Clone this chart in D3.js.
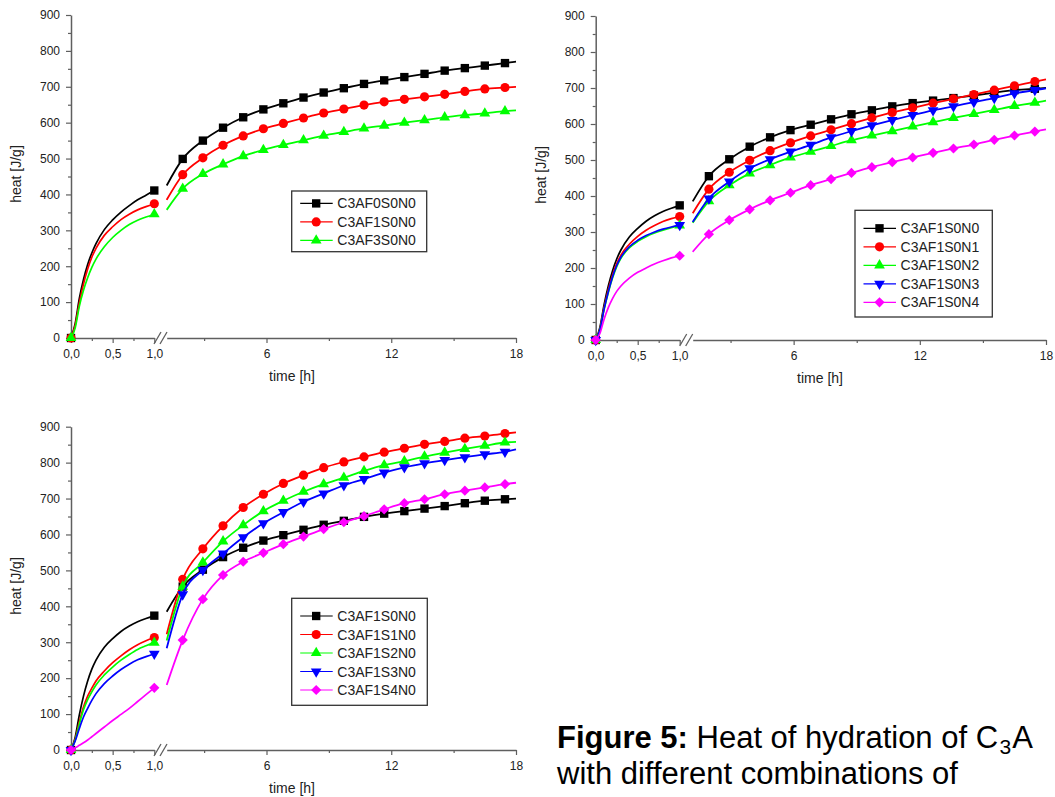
<!DOCTYPE html>
<html><head><meta charset="utf-8">
<script src="https://cdn.jsdelivr.net/npm/d3@7"></script>
<style>
body{margin:0;background:#fff}
svg{display:block}
text{font-family:"Liberation Sans",Arial,Helvetica,sans-serif}
</style>
</head><body>
<svg id="c" width="1055" height="797"></svg>
<script>
// ---------- data ----------
const seg1Times = [0, 0.05, 0.1, 0.15, 0.2, 0.25, 0.3, 0.4, 0.5, 0.6, 0.7, 0.8, 0.9, 1.0];
const seg2Times = [1.2, 1.97, 2.94, 3.91, 4.88, 5.85, 6.81, 7.78, 8.75, 9.72, 10.69, 11.66, 12.63, 13.60, 14.57, 15.54, 16.50, 17.47, 18];
const yTicks = [0, 100, 200, 300, 400, 500, 600, 700, 800, 900];
const yMinor = [50, 150, 250, 350, 450, 550, 650, 750, 850];
const xTicks1 = [0, 0.5, 1.0];
const xTickLabels1 = ["0,0", "0,5", "1,0"];
const xMinor1 = [0.25, 0.75];
const xTicks2 = [6, 12, 18];
const xTickLabels2 = ["6", "12", "18"];
const xMinor2 = [3, 9, 15];

const C3AF0S0N0_a = [0, 40, 110, 163, 205, 237, 263, 302, 329, 351, 369, 385, 398, 411];
const C3AF0S0N0_b = [425, 499, 550, 586, 615, 637, 654, 670, 684, 696, 708, 718, 727, 736, 745, 752, 759, 766, 770];
const C3AF1S0N0_a = [0, 35, 98, 150, 192, 225, 250, 286, 310, 330, 345, 357, 366, 374];
const C3AF1S0N0_b = [385, 455, 502, 537, 563, 583, 598, 613, 627, 638, 649, 658, 665, 672, 679, 687, 694, 698, 700];
const C3AF3S0N0_a = [0, 28, 88, 133, 168, 197, 220, 254, 280, 300, 316, 328, 337, 345];
const C3AF3S0N0_b = [357, 416, 457, 484, 507, 524, 538, 551, 564, 574, 584, 592, 600, 607, 615, 621, 626, 632, 634];

const C3AF1S0N1_a = [0, 30, 90, 140, 180, 212, 236, 266, 288, 305, 318, 329, 337, 343];
const C3AF1S0N1_b = [352, 419, 466, 499, 526, 548, 567, 584, 601, 617, 632, 645, 658, 670, 682, 694, 706, 718, 724];
const C3AF1S0N2_a = [0, 28, 85, 132, 172, 204, 227, 256, 274, 287, 297, 305, 312, 318];
const C3AF1S0N2_b = [326, 386, 430, 463, 486, 507, 523, 539, 555, 568, 580, 593, 605, 617, 628, 639, 650, 659, 665];
const C3AF1S0N3_a = [0, 28, 86, 134, 175, 207, 230, 259, 277, 290, 300, 308, 314, 319];
const C3AF1S0N3_b = [328, 393, 440, 477, 502, 523, 542, 563, 580, 596, 611, 625, 638, 649, 661, 672, 685, 694, 699];
const C3AF1S0N4_a = [0, 18, 58, 90, 115, 135, 150, 172, 188, 200, 211, 220, 228, 234];
const C3AF1S0N4_b = [245, 294, 333, 363, 388, 409, 430, 447, 464, 480, 494, 507, 520, 532, 543, 556, 568, 579, 585];

const C3AF1S1N0_a = [0, 30, 78, 120, 150, 172, 192, 220, 243, 262, 279, 293, 304, 313];
const C3AF1S1N0_b = [322, 475, 560, 624, 675, 712, 742, 765, 786, 802, 816, 829, 840, 851, 859, 868, 874, 881, 884];
const C3AF1S2N0_a = [0, 27, 72, 112, 140, 162, 181, 209, 231, 250, 266, 280, 290, 299];
const C3AF1S2N0_b = [305, 455, 522, 581, 626, 665, 694, 719, 740, 758, 777, 793, 804, 817, 828, 838, 847, 856, 858];
const C3AF1S3N0_a = [0, 25, 60, 92, 116, 138, 157, 185, 206, 224, 239, 251, 260, 268];
const C3AF1S3N0_b = [283, 433, 501, 547, 592, 631, 662, 691, 714, 737, 754, 772, 787, 798, 807, 815, 823, 830, 837];
const C3AF1S4N0_a = [0, 6, 13, 20, 28, 37, 46, 64, 82, 99, 116, 135, 154, 173];
const C3AF1S4N0_b = [181, 306, 420, 487, 524, 549, 573, 594, 615, 634, 651, 670, 687, 698, 712, 722, 731, 740, 744];

// ---------- styling ----------
const COL = {black:"#000000", red:"#ff0000", green:"#00ff00", blue:"#0000ff", magenta:"#ff00ff"};

const panels = [
  { xa:71, xb:154.3, xc:166.7, xd:516, yt:15, yb:338,
    yLabel:{x:16, y:174}, xLabel:{x:292, y:381},
    legend:{x:291.7, y:191, w:135, h:60.7, first:12.4, step:18.5},
    series:[
      {name:"C3AF0S0N0", color:COL.black, shape:"square", a:C3AF0S0N0_a, b:C3AF0S0N0_b},
      {name:"C3AF1S0N0", color:COL.red, shape:"circle", a:C3AF1S0N0_a, b:C3AF1S0N0_b},
      {name:"C3AF3S0N0", color:COL.green, shape:"triangle", a:C3AF3S0N0_a, b:C3AF3S0N0_b}
    ]},
  { xa:595.7, xb:679.7, xc:692.7, xd:1046, yt:16, yb:340,
    yLabel:{x:541, y:175}, xLabel:{x:820, y:383},
    legend:{x:855, y:210.3, w:137.3, h:106.7, first:18, step:18.5},
    series:[
      {name:"C3AF1S0N0", color:COL.black, shape:"square", a:C3AF1S0N0_a, b:C3AF1S0N0_b},
      {name:"C3AF1S0N1", color:COL.red, shape:"circle", a:C3AF1S0N1_a, b:C3AF1S0N1_b},
      {name:"C3AF1S0N2", color:COL.green, shape:"triangle", a:C3AF1S0N2_a, b:C3AF1S0N2_b},
      {name:"C3AF1S0N3", color:COL.blue, shape:"triangleDown", a:C3AF1S0N3_a, b:C3AF1S0N3_b},
      {name:"C3AF1S0N4", color:COL.magenta, shape:"diamond", a:C3AF1S0N4_a, b:C3AF1S0N4_b}
    ]},
  { xa:71, xb:154.3, xc:166.7, xd:516, yt:426.7, yb:750,
    yLabel:{x:16, y:586}, xLabel:{x:292, y:793},
    legend:{x:291.7, y:598.3, w:135.6, h:107, first:17.7, step:18.5},
    series:[
      {name:"C3AF1S0N0", color:COL.black, shape:"square", a:C3AF1S0N0_a, b:C3AF1S0N0_b},
      {name:"C3AF1S1N0", color:COL.red, shape:"circle", a:C3AF1S1N0_a, b:C3AF1S1N0_b},
      {name:"C3AF1S2N0", color:COL.green, shape:"triangle", a:C3AF1S2N0_a, b:C3AF1S2N0_b},
      {name:"C3AF1S3N0", color:COL.blue, shape:"triangleDown", a:C3AF1S3N0_a, b:C3AF1S3N0_b},
      {name:"C3AF1S4N0", color:COL.magenta, shape:"diamond", a:C3AF1S4N0_a, b:C3AF1S4N0_b}
    ]}
];

const svg = d3.select("#c");
const AX = "#5f5f5f", TXT = "#222";

function symbolPath(shape) {
  switch (shape) {
    case "square": return {d: d3.symbol(d3.symbolSquare, 70)(), rot: 0};
    case "circle": return {d: d3.symbol(d3.symbolCircle, 66)(), rot: 0};
    case "triangle": return {d: d3.symbol(d3.symbolTriangle, 50)(), rot: 0};
    case "triangleDown": return {d: d3.symbol(d3.symbolTriangle, 50)(), rot: 180};
    case "diamond": return {d: d3.symbol(d3.symbolSquare, 52)(), rot: 45};
  }
}

function styleAxis(g, fontSize) {
  g.select(".domain").attr("stroke", AX).attr("stroke-width", 1.5);
  g.selectAll(".tick line").attr("stroke", AX).attr("stroke-width", 1.2);
  g.selectAll(".tick text").attr("fill", TXT).attr("font-size", fontSize)
    .attr("font-family", '"Liberation Sans",Arial,Helvetica,sans-serif');
}

function drawPanel(p) {
  const g = svg.append("g");
  const xs1 = d3.scaleLinear().domain([0, 1]).range([p.xa, p.xb]);
  const xs2 = d3.scaleLinear().domain([1.2, 18]).range([p.xc, p.xd]);
  const ys = d3.scaleLinear().domain([0, 900]).range([p.yb, p.yt]);

  // y axis
  const gy = g.append("g").attr("transform", `translate(${p.xa},0)`)
    .call(d3.axisLeft(ys).tickValues(yTicks).tickSize(5).tickPadding(6).tickSizeOuter(0).tickFormat(d3.format("d")));
  styleAxis(gy, 12);
  const gym = g.append("g").attr("transform", `translate(${p.xa},0)`)
    .call(d3.axisLeft(ys).tickValues(yMinor).tickSize(3).tickSizeOuter(0).tickFormat(""));
  styleAxis(gym, 12);
  gym.select(".domain").remove();

  // x axis segments
  const gx1 = g.append("g").attr("transform", `translate(0,${p.yb})`)
    .call(d3.axisBottom(xs1).tickValues(xTicks1).tickSize(5).tickPadding(6.5).tickSizeOuter(0)
      .tickFormat((d, i) => xTickLabels1[i]));
  styleAxis(gx1, 12);
  const gx1m = g.append("g").attr("transform", `translate(0,${p.yb})`)
    .call(d3.axisBottom(xs1).tickValues(xMinor1).tickSize(3).tickSizeOuter(0).tickFormat(""));
  styleAxis(gx1m, 12); gx1m.select(".domain").remove();

  const gx2 = g.append("g").attr("transform", `translate(0,${p.yb})`)
    .call(d3.axisBottom(xs2).tickValues(xTicks2).tickSize(5).tickPadding(6.5).tickSizeOuter(0)
      .tickFormat((d, i) => xTickLabels2[i]));
  styleAxis(gx2, 12);
  const gx2m = g.append("g").attr("transform", `translate(0,${p.yb})`)
    .call(d3.axisBottom(xs2).tickValues(xMinor2).tickSize(3).tickSizeOuter(0).tickFormat(""));
  styleAxis(gx2m, 12); gx2m.select(".domain").remove();

  // break marks
  const bm = (p.xb + p.xc) / 2;
  [-3, 3].forEach(off => {
    g.append("line")
      .attr("x1", bm + off - 3.5).attr("y1", p.yb + 6)
      .attr("x2", bm + off + 3.5).attr("y2", p.yb - 6)
      .attr("stroke", AX).attr("stroke-width", 1.3);
  });

  // axis titles
  g.append("text").attr("x", p.xLabel.x).attr("y", p.xLabel.y)
    .attr("text-anchor", "middle").attr("font-size", 14).attr("fill", TXT).text("time [h]");
  g.append("text").attr("transform", `translate(${p.yLabel.x},${p.yLabel.y}) rotate(-90)`)
    .attr("text-anchor", "middle").attr("dominant-baseline", "central")
    .attr("font-size", 14).attr("fill", TXT).text("heat [J/g]");

  // series
  const line1 = d3.line().x((d, i) => xs1(seg1Times[i])).y(d => ys(d)).curve(d3.curveMonotoneX);
  const line2 = d3.line().x((d, i) => xs2(seg2Times[i])).y(d => ys(d)).curve(d3.curveMonotoneX);

  p.series.forEach(s => {
    const sg = g.append("g");
    sg.append("path").attr("d", line1(s.a)).attr("fill", "none")
      .attr("stroke", s.color).attr("stroke-width", 1.7);
    sg.append("path").attr("d", line2(s.b)).attr("fill", "none")
      .attr("stroke", s.color).attr("stroke-width", 1.8);
    const sym = symbolPath(s.shape);
    const pts = [];
    pts.push([xs1(seg1Times[0]), ys(s.a[0])]);
    pts.push([xs1(seg1Times[seg1Times.length - 1]), ys(s.a[s.a.length - 1])]);
    for (let i = 1; i < seg2Times.length - 1; i++) pts.push([xs2(seg2Times[i]), ys(s.b[i])]);
    sg.selectAll("path.m").data(pts).join("path").attr("class", "m")
      .attr("d", sym.d)
      .attr("transform", d => `translate(${d[0]},${d[1]}) rotate(${sym.rot})`)
      .attr("fill", s.color);
  });

  // legend
  const L = p.legend;
  const lg = g.append("g");
  lg.append("rect").attr("x", L.x).attr("y", L.y).attr("width", L.w).attr("height", L.h)
    .attr("fill", "#fff").attr("stroke", "#333").attr("stroke-width", 1.3);
  p.series.forEach((s, i) => {
    const yy = L.y + L.first + i * L.step;
    lg.append("line").attr("x1", L.x + 8.5).attr("x2", L.x + 41).attr("y1", yy).attr("y2", yy)
      .attr("stroke", s.color).attr("stroke-width", 1.2);
    const sym = symbolPath(s.shape);
    lg.append("path").attr("d", sym.d)
      .attr("transform", `translate(${L.x + 24.5},${yy}) rotate(${sym.rot})`).attr("fill", s.color);
    lg.append("text").attr("x", L.x + 45.6).attr("y", yy).attr("dominant-baseline", "central")
      .attr("font-size", 14).attr("fill", TXT).text(s.name);
  });
}

panels.forEach(drawPanel);

// caption
const cap = svg.append("g").attr("font-size", 31).attr("fill", "#000");
const t1 = cap.append("text").attr("x", 557).attr("y", 748.3);
t1.append("tspan").attr("font-weight", "bold").text("Figure 5:");
t1.append("tspan").text(" Heat of hydration of C");
t1.append("tspan").attr("font-size", 21).attr("dx", 1.5).attr("dy", 6).text("3");
t1.append("tspan").attr("dx", 1).attr("dy", -6).text("A");
cap.append("text").attr("x", 557).attr("y", 784.3).text("with different combinations of");
</script>
</body></html>
